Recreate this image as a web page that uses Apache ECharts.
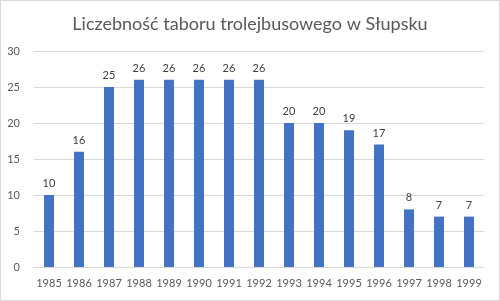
<!DOCTYPE html>
<html><head><meta charset="utf-8">
<script src="https://cdn.jsdelivr.net/npm/echarts@6/dist/echarts.min.js"></script>
<style>html,body{margin:0;padding:0;background:#fff}#c{width:500px;height:301px;box-sizing:border-box;border:1px solid #d9d9d9}</style>
</head><body><div id="c"></div>
<script>
const title = 'Liczebność taboru trolejbusowego w Słupsku';
const years = ['1985','1986','1987','1988','1989','1990','1991','1992','1993','1994','1995','1996','1997','1998','1999'];
const counts = [10,16,25,26,26,26,26,26,20,20,19,17,8,7,7];
const chart = echarts.init(document.getElementById('c'), null, {renderer:'canvas'});
const font = 'Lato, "Liberation Sans", sans-serif';
chart.setOption({
  animation:false,
  textStyle:{fontFamily:font},
  title:{text:title,left:'center',top:9,textStyle:{fontFamily:font,fontSize:18,fontWeight:'normal',color:'#595959'}},
  grid:{left:33,right:15,top:50,bottom:33},
  xAxis:{type:'category',data:years,axisTick:{show:false},
    axisLine:{lineStyle:{color:'#d9d9d9'}},
    axisLabel:{interval:0,color:'#595959',fontSize:11,margin:11,fontFamily:font}},
  yAxis:{type:'value',min:0,max:30,interval:5,
    axisLine:{show:false},axisTick:{show:false},
    splitLine:{lineStyle:{color:'#d9d9d9'}},
    axisLabel:{color:'#595959',fontSize:11,margin:14,fontFamily:font}},
  series:[{type:'bar',data:counts,barWidth:10,itemStyle:{color:'#4472C4'},
    label:{show:true,position:'top',distance:6,color:'#404040',fontSize:11,fontFamily:font}}]
});
</script></body></html>
